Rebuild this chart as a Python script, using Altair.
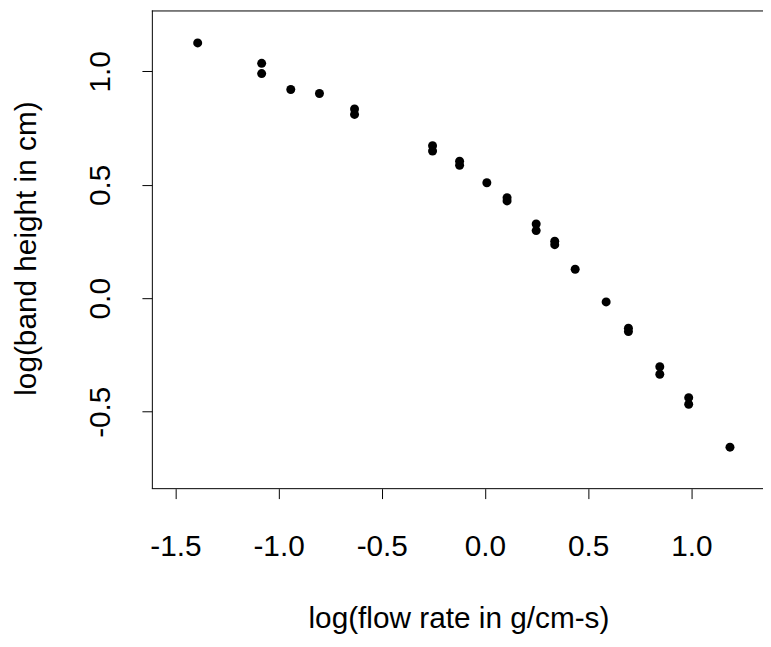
import altair as alt
import pandas as pd

# data
flow = [-1.392, -1.082, -1.082, -0.941, -0.802, -0.632, -0.632, -0.254, -0.254,
        -0.123, -0.123, 0.009, 0.107, 0.107, 0.248, 0.248, 0.338, 0.338, 0.437,
        0.587, 0.695, 0.695, 0.847, 0.847, 0.987, 0.987, 1.187]
band = [1.125, 1.035, 0.990, 0.920, 0.902, 0.834, 0.810, 0.672, 0.649,
        0.604, 0.586, 0.509, 0.443, 0.429, 0.327, 0.298, 0.251, 0.236, 0.128,
        -0.016, -0.132, -0.147, -0.302, -0.335, -0.438, -0.467, -0.656]
x_ticks = [-1.5, -1.0, -0.5, 0.0, 0.5, 1.0]
y_ticks = [-0.5, 0.0, 0.5, 1.0]
x_title = "log(flow rate in g/cm-s)"
y_title = "log(band height in cm)"

df = pd.DataFrame({"flow": flow, "band": band})

W, H = 616, 482
FONT = "Liberation Sans"
FS = 30
label_expr = "(datum.value < 0 ? '-' : '') + format(abs(datum.value), '.1f')"

xscale = alt.Scale(domain=[-1.614, 1.347], nice=False, zero=False)
yscale = alt.Scale(domain=[-0.839, 1.268], nice=False, zero=False)

points = alt.Chart(df).mark_circle(size=82, color="black", opacity=1).encode(
    x=alt.X("flow:Q", scale=xscale,
            axis=alt.Axis(values=x_ticks, labelExpr=label_expr, title=x_title,
                          domain=False, grid=False, ticks=True, tickSize=10,
                          tickColor="black", tickWidth=1,
                          labelFont=FONT, labelFontSize=FS, labelColor="black",
                          labelPadding=57, labelBaseline="alphabetic",
                          labelOverlap=False, labelFlush=False,
                          titleFont=FONT, titleFontSize=FS, titleFontWeight="normal",
                          titleColor="black", titleX=W / 2 + 1, titleY=140,
                          titleAlign="center", titleBaseline="alphabetic")),
    y=alt.Y("band:Q", scale=yscale,
            axis=alt.Axis(values=y_ticks, labelExpr=label_expr, title=y_title,
                          domain=False, grid=False, ticks=True, tickSize=10,
                          tickColor="black", tickWidth=1,
                          labelFont=FONT, labelFontSize=FS, labelColor="black",
                          labelAngle=270, labelAlign="center",
                          labelBaseline="alphabetic", labelPadding=33,
                          labelOverlap=False, labelFlush=False,
                          titleFont=FONT, titleFontSize=FS, titleFontWeight="normal",
                          titleColor="black", titleX=-117, titleY=239.5,
                          titleAngle=270, titleAlign="center",
                          titleBaseline="alphabetic")),
)

one = pd.DataFrame({"k": [0]})
top = alt.Chart(one).mark_rule(color="black", strokeWidth=1).encode(
    x=alt.value(0), x2=alt.value(W + 5), y=alt.value(0.5))
bottom = alt.Chart(one).mark_rule(color="black", strokeWidth=1).encode(
    x=alt.value(0), x2=alt.value(W + 5), y=alt.value(H))
left = alt.Chart(one).mark_rule(color="black", strokeWidth=1).encode(
    x=alt.value(0.5), y=alt.value(0), y2=alt.value(H))

chart = alt.layer(points, top, bottom, left).properties(
    width=W, height=H,
    autosize=alt.AutoSizeParams(type="none"),
    padding={"left": 145, "right": 0, "top": 0, "bottom": 145},
    background="white",
).configure_view(stroke=None)

chart.save("out.html", embed_options={"renderer": "svg", "actions": False})
